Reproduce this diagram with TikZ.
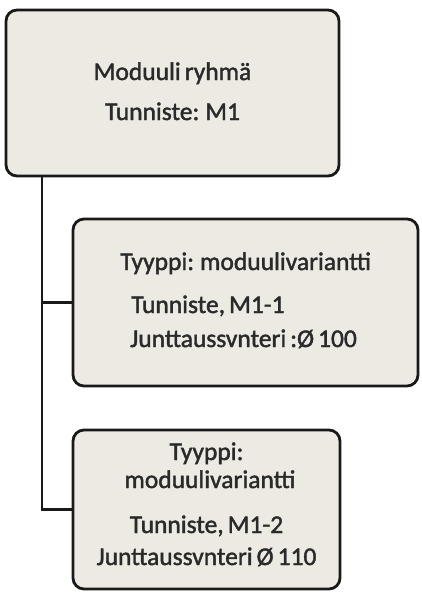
\documentclass[tikz,border=0pt]{standalone}
\usepackage{fontspec}
\setmainfont{Carlito}[WordSpace=0.7]
\newfontfamily\boxfont{Carlito}[WordSpace=0.7, FakeBold=1.6]
\definecolor{boxfill}{RGB}{236,234,226}
\definecolor{boxline}{RGB}{25,25,25}
\definecolor{txtcol}{RGB}{42,42,42}
\tikzset{
  modbox/.style={draw=boxline, line width=2.8pt, fill=boxfill, rounded corners=11pt,
                 inner sep=0pt},
  label/.style={text=txtcol, font=\boxfont\fontsize{25.5}{28}\selectfont, inner sep=0pt},
  conn/.style={draw=boxline, line width=2.8pt}
}
\begin{document}
\begin{tikzpicture}[x=1pt, y=-1pt]
  \useasboundingbox (0,0) rectangle (421,592);

  % boxes
  \node[modbox, minimum width=333pt, minimum height=166pt] (m1) at (172.5,93) {};
  \node[modbox, minimum width=345pt, minimum height=167pt] (v1) at (245.5,302.5) {};
  \node[modbox, minimum width=267pt, minimum height=159pt] (v2) at (206.5,509.5) {};

  % tree connectors
  \coordinate (trunk) at (42,176);
  \draw[conn] (trunk) |- (v1.west);
  \draw[conn] (trunk) |- (v2.west);

  % texts of the module group
  \node[label, anchor=base] (t1a) at (172.5,80) {Moduuli ryhmä};
  \node[label, anchor=base] (t1b) at (172.5,120) {Tunniste: M1};

  % texts of the first variant
  \node[label, anchor=base west] (t2a) at (120,270) {Tyyppi: moduulivariantti};
  \node[label, anchor=base west] (t2b) at (131,313) {Tunniste, M1-1};
  \node[label, anchor=base west] (t2c) at (130,347) {Junttaussvnteri :Ø 100};

  % texts of the second variant
  \node[label, anchor=base] (t3a) at (206.5,460) {Tyyppi:};
  \node[label, anchor=base] (t3b) at (210,488) {moduulivariantti};
  \node[label, anchor=base] (t3c) at (206.5,533) {Tunniste, M1-2};
  \node[label, anchor=base] (t3d) at (206.5,565) {Junttaussvnteri Ø 110};
\end{tikzpicture}
\end{document}
